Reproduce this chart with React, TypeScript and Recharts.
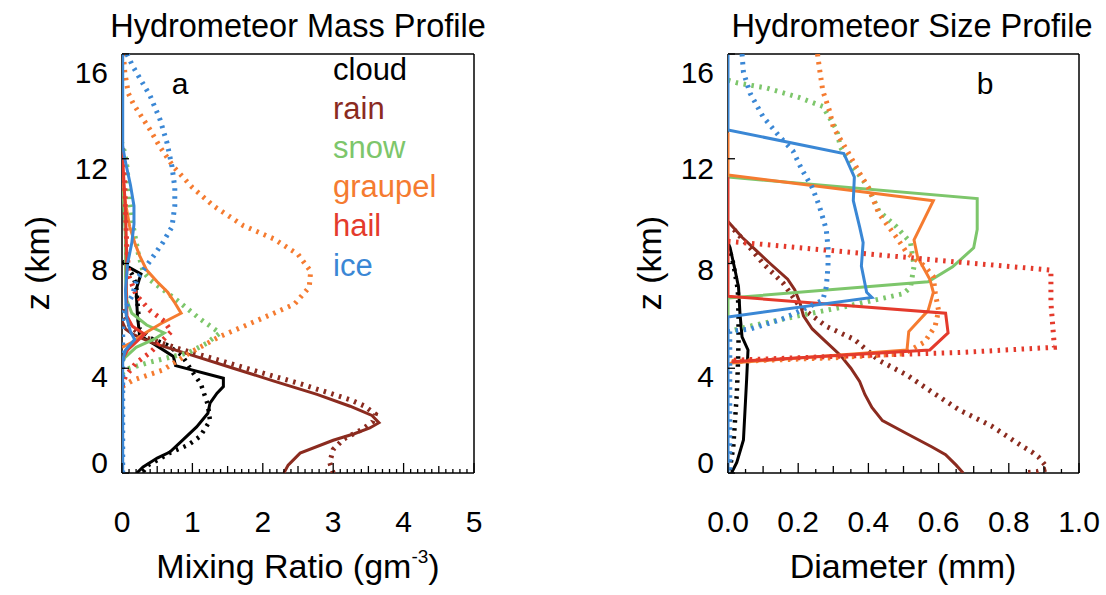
import React from 'react';
import { ScatterChart, Scatter, XAxis, YAxis } from 'recharts';

type Pair = [number, number]; // [value, height z (km)]

// ---------- Panel a: mixing ratio (g m^-3) ----------
const massCloudSolid: Pair[] = [[0.21, 0], [0.3, 0.23], [0.5, 0.57], [0.68, 0.8], [0.82, 1.15], [1.06, 1.76], [1.22, 2.28], [1.25, 2.67], [1.35, 3.05], [1.44, 3.3], [1.44, 3.62], [0.76, 4.1], [0.73, 4.45], [0.44, 4.95], [0.25, 5.25], [0.22, 6.0], [0.2, 7.0], [0.24, 7.35], [0.27, 7.6], [0.1, 7.85], [0, 8.05]];
const massCloudDotted: Pair[] = [[0.3, 0.05], [0.37, 0.3], [0.51, 0.5], [0.68, 0.77], [0.94, 1.07], [1.11, 1.4], [1.25, 2.0], [1.22, 2.6], [1.12, 3.4], [1.0, 3.86], [0.85, 4.5], [0.63, 4.9], [0.4, 5.15], [0.25, 5.5], [0.22, 6.5], [0.2, 7.2], [0.14, 7.6], [0.05, 7.9], [0, 8.1]];
const massRainSolid: Pair[] = [[2.3, 0], [2.36, 0.3], [2.53, 0.76], [3.0, 1.25], [3.3, 1.5], [3.52, 1.72], [3.65, 1.92], [3.55, 2.2], [3.24, 2.55], [2.77, 3.0], [2.17, 3.5], [1.58, 4.0], [0.99, 4.5], [0.44, 4.96], [0.15, 5.3], [0.05, 5.5], [0, 5.8]];
const massRainDotted: Pair[] = [[3.0, 0], [2.95, 0.4], [3.0, 0.9], [3.15, 1.3], [3.4, 1.65], [3.56, 1.95], [3.6, 2.25], [3.45, 2.55], [3.24, 2.8], [2.54, 3.4], [1.83, 3.95], [1.19, 4.45], [0.78, 4.77], [0.3, 5.2], [0.12, 5.6], [0.03, 6.0], [0, 6.3]];
const massSnowSolid: Pair[] = [[0, 4.2], [0.04, 4.4], [0.2, 4.8], [0.45, 5.1], [0.6, 5.35], [0.35, 5.65], [0.14, 6.1], [0.07, 6.6], [0.05, 7.5], [0.05, 9.0], [0.03, 10.0], [0.01, 11.0], [0, 11.5]];
const massSnowDotted: Pair[] = [[0, 3.8], [0.05, 3.95], [0.35, 4.2], [0.65, 4.4], [0.95, 4.6], [1.2, 4.95], [1.39, 5.35], [1.1, 5.9], [0.78, 6.6], [0.4, 7.37], [0.3, 7.7], [0.23, 8.4], [0.16, 9.4], [0.11, 10.4], [0.07, 11.7], [0.04, 12.2], [0, 12.6]];
const massGraupelSolid: Pair[] = [[0, 4.8], [0.15, 5.0], [0.3, 5.3], [0.55, 5.7], [0.84, 6.1], [0.75, 6.5], [0.65, 6.9], [0.5, 7.3], [0.35, 7.75], [0.25, 8.3], [0.18, 8.8], [0.11, 9.4], [0.05, 10.3], [0.02, 11.0], [0, 11.8]];
const massGraupelDotted: Pair[] = [[0.02, 16.0], [0.04, 15.3], [0.09, 14.5], [0.16, 14.1], [0.4, 13.1], [0.54, 12.45], [0.73, 11.7], [1.0, 10.9], [1.3, 10.2], [1.72, 9.45], [2.15, 8.95], [2.5, 8.35], [2.68, 7.7], [2.66, 7.1], [2.45, 6.45], [1.9, 5.8], [1.38, 5.2], [0.97, 4.6], [0.58, 3.93], [0.16, 3.55], [0, 3.3]];
const massHailSolid: Pair[] = [[0, 4.3], [0.08, 4.7], [0.2, 5.0], [0.32, 5.3], [0.15, 5.6], [0.07, 6.0], [0.06, 7.0], [0.07, 8.0], [0.06, 9.0], [0.05, 10.0], [0.03, 11.0], [0.01, 12.0], [0, 12.5]];
const massHailDotted: Pair[] = [[0, 3.3], [0.05, 3.7], [0.2, 4.2], [0.4, 4.6], [0.55, 5.0], [0.7, 5.4], [0.6, 5.8], [0.4, 6.2], [0.2, 6.8], [0.1, 7.5], [0.07, 8.5], [0.05, 10.0], [0.04, 11.0], [0.02, 12.0], [0, 12.5]];
const massIceSolid: Pair[] = [[0.01, 0], [0.01, 4.3], [0.05, 4.7], [0.18, 5.1], [0.12, 5.4], [0.06, 6.0], [0.05, 7.0], [0.08, 8.0], [0.14, 8.8], [0.17, 9.5], [0.17, 10.2], [0.12, 11.0], [0.04, 12.0], [0.01, 12.5], [0.01, 16]];
const massIceDotted: Pair[] = [[0.01, 0], [0.01, 6.0], [0.05, 6.3], [0.15, 6.8], [0.21, 7.4], [0.4, 8.1], [0.58, 8.8], [0.71, 9.4], [0.75, 10.2], [0.75, 10.9], [0.71, 11.7], [0.64, 12.6], [0.54, 13.5], [0.4, 14.4], [0.16, 15.5], [0.07, 16.0]];

// ---------- Panel b: diameter (mm) ----------
const sizeCloudSolid: Pair[] = [[0.01, 0], [0.025, 0.4], [0.044, 1.26], [0.053, 3.55], [0.057, 4.7], [0.04, 5.2], [0.034, 6.1], [0.03, 7.1], [0.02, 7.75], [0.006, 8.6], [0, 8.8]];
const sizeCloudDotted: Pair[] = [[0.005, 0.1], [0.015, 1.0], [0.02, 2.0], [0.025, 3.0], [0.028, 4.0], [0.03, 5.0], [0.03, 6.0], [0.028, 7.0], [0.015, 8.0], [0.005, 8.5]];
const sizeRainSolid: Pair[] = [[0.67, 0], [0.65, 0.3], [0.62, 0.7], [0.58, 1.0], [0.51, 1.5], [0.44, 2.0], [0.41, 2.5], [0.39, 3.0], [0.375, 3.5], [0.35, 4.0], [0.32, 4.5], [0.28, 5.0], [0.24, 5.5], [0.215, 6.0], [0.205, 6.5], [0.19, 7.0], [0.17, 7.4], [0.12, 8.0], [0.08, 8.5], [0.04, 9.0], [0, 9.6]];
const sizeRainDotted: Pair[] = [[0.855, 0.02], [0.88, 0.05], [0.908, 0.15], [0.903, 0.31], [0.884, 0.62], [0.865, 0.81], [0.841, 1.0], [0.818, 1.2], [0.75, 1.8], [0.66, 2.4], [0.58, 3.1], [0.51, 3.74], [0.43, 4.3], [0.36, 5.1], [0.28, 5.6], [0.205, 6.35], [0.157, 7.25], [0.1, 8.0], [0.063, 8.6], [0.01, 9.4]];
const sizeSnowSolid: Pair[] = [[0, 5.96], [0, 6.68], [0.57, 7.3], [0.64, 7.87], [0.7, 8.6], [0.71, 9.3], [0.71, 10.48], [0, 11.3]];
const sizeSnowDotted: Pair[] = [[0, 15.0], [0.025, 14.9], [0.11, 14.7], [0.2, 14.35], [0.27, 14.0], [0.31, 13.1], [0.32, 12.45], [0.35, 11.8], [0.4, 10.9], [0.43, 10.0], [0.48, 9.4], [0.52, 8.8], [0.53, 7.9], [0.52, 7.1], [0.5, 6.85], [0.35, 6.4], [0.2, 6.0], [0.06, 5.6], [0, 5.4]];
const sizeGraupelSolid: Pair[] = [[0, 13.0], [0, 11.38], [0.585, 10.4], [0.53, 8.9], [0.54, 8.25], [0.575, 7.4], [0.585, 6.9], [0.57, 6.2], [0.515, 5.4], [0.51, 4.7], [0.01, 4.2], [0, 4.15]];
const sizeGraupelDotted: Pair[] = [[0.255, 16.0], [0.26, 15.5], [0.27, 14.6], [0.29, 13.8], [0.3, 13.2], [0.34, 12.3], [0.375, 11.45], [0.4, 10.9], [0.43, 9.9], [0.48, 9.0], [0.51, 8.4], [0.56, 7.9], [0.585, 7.5], [0.59, 6.9], [0.6, 6.2], [0.59, 5.6], [0.56, 5.0], [0.5, 4.55], [0.3, 4.4], [0, 4.25]];
const sizeHailSolid: Pair[] = [[0, 11.3], [0, 6.75], [0.62, 6.1], [0.627, 5.35], [0.575, 4.7], [0.01, 4.25]];
const sizeHailDotted: Pair[] = [[0, 8.85], [0.66, 8.05], [0.92, 7.75], [0.92, 6.5], [0.93, 4.8], [0.66, 4.6], [0.3, 4.45], [0, 4.3]];
const sizeIceSolid: Pair[] = [[0, 16.0], [0, 13.1], [0.33, 12.2], [0.36, 11.3], [0.357, 10.4], [0.375, 9.4], [0.385, 8.8], [0.38, 7.9], [0.395, 6.9], [0.41, 6.7], [0, 5.96], [0, 0]];
const sizeIceDotted: Pair[] = [[0.04, 16.0], [0.044, 15.3], [0.063, 14.5], [0.1, 13.6], [0.15, 12.8], [0.185, 12.3], [0.21, 11.6], [0.24, 10.9], [0.26, 10.2], [0.28, 9.3], [0.285, 8.6], [0.285, 7.9], [0.28, 7.1], [0.27, 6.6], [0.15, 5.85], [0.063, 5.5], [0.005, 5.4], [0.005, 0]];

// ---------- axes / labels ----------
const species = ['cloud', 'rain', 'snow', 'graupel', 'hail', 'ice'];
const COLORS: Record<string, string> = {
  cloud: '#000000',
  rain: '#8B2B1F',
  snow: '#7DC66B',
  graupel: '#F57B30',
  hail: '#E43A2C',
  ice: '#3A87D5',
};
const zTicks = [0, 4, 8, 12, 16];
const zLabelShift = [-11, 8, 6, 10, 18];
const massTicks = [0, 1, 2, 3, 4, 5];
const massMidTicks = [0.5, 1.5, 2.5, 3.5, 4.5];
const massAllTicks = Array.from({ length: 51 }, (_, i) => i / 10);
const sizeTicks = [0, 0.2, 0.4, 0.6, 0.8, 1.0];
const sizeMidTicks = [0.1, 0.3, 0.5, 0.7, 0.9];
const sizeAllTicks = Array.from({ length: 21 }, (_, i) => i / 20);

const FONT = "'Liberation Sans', Arial, Helvetica, sans-serif";
const TICK_FS = 30;
const LEGEND_FS = 31;
const AXIS_FS = 34;
const TITLE_FS = 32.5;

const toPts = (arr: Pair[]) => arr.map(([x, z]) => ({ x, z }));
const NoShape = () => <g />;
const near = (list: number[], v: number) => list.some((t) => Math.abs(t - v) < 1e-6);

type Series = { name: string; solid: Pair[]; dotted: Pair[] };
const massSeries: Series[] = [
  { name: 'cloud', solid: massCloudSolid, dotted: massCloudDotted },
  { name: 'rain', solid: massRainSolid, dotted: massRainDotted },
  { name: 'snow', solid: massSnowSolid, dotted: massSnowDotted },
  { name: 'graupel', solid: massGraupelSolid, dotted: massGraupelDotted },
  { name: 'hail', solid: massHailSolid, dotted: massHailDotted },
  { name: 'ice', solid: massIceSolid, dotted: massIceDotted },
];
const sizeSeries: Series[] = [
  { name: 'cloud', solid: sizeCloudSolid, dotted: sizeCloudDotted },
  { name: 'rain', solid: sizeRainSolid, dotted: sizeRainDotted },
  { name: 'snow', solid: sizeSnowSolid, dotted: sizeSnowDotted },
  { name: 'graupel', solid: sizeGraupelSolid, dotted: sizeGraupelDotted },
  { name: 'hail', solid: sizeHailSolid, dotted: sizeHailDotted },
  { name: 'ice', solid: sizeIceSolid, dotted: sizeIceDotted },
];

const PLOT_TOP = 54;
const PLOT_BOTTOM = 473;
const H = 595;
const XAX_H = 40;
const TOPAX_H = 20;
const YAX_W = 60;
const RAX_W = 10;

type PanelProps = {
  left: number;
  width: number;
  plotLeft: number;
  plotRight: number;
  xDomain: [number, number];
  major: number[];
  mid: number[];
  all: number[];
  fmt: (v: number) => string;
  series: Series[];
};

function Panel({ left, width, plotLeft, plotRight, xDomain, major, mid, all, fmt, series }: PanelProps) {
  const margin = {
    top: PLOT_TOP - TOPAX_H,
    left: plotLeft - left - YAX_W,
    right: left + width - plotRight - RAX_W,
    bottom: H - PLOT_BOTTOM - XAX_H,
  };
  const tickLen = (v: number) => (near(major, v) ? 10 : near(mid, v) ? 7 : 4);
  const BottomTick = (p: any) => {
    const v = p.payload.value;
    return (
      <g>
        <line x1={p.x} x2={p.x} y1={p.y} y2={p.y - tickLen(v)} stroke="#000" strokeWidth={1.3} />
        {near(major, v) && (
          <text x={p.x} y={p.y + 59} textAnchor="middle" fontSize={TICK_FS} fontFamily={FONT} fill="#000">
            {fmt(v)}
          </text>
        )}
      </g>
    );
  };
  const TopTick = (p: any) => {
    const v = p.payload.value;
    return <line x1={p.x} x2={p.x} y1={p.y} y2={p.y + tickLen(v)} stroke="#000" strokeWidth={1.3} />;
  };
  const LeftTick = (p: any) => {
    const v = p.payload.value;
    const i = zTicks.indexOf(v);
    const s = i >= 0 ? zLabelShift[i] : 0;
    return (
      <g>
        <line x1={p.x} x2={p.x + 7} y1={p.y} y2={p.y} stroke="#000" strokeWidth={1.3} />
        <text x={p.x - 14} y={p.y + s + 10.5} textAnchor="end" fontSize={TICK_FS} fontFamily={FONT} fill="#000">
          {v}
        </text>
      </g>
    );
  };
  const Empty = () => <g />;
  const axisLine = { stroke: '#000', strokeWidth: 1.5 };
  const commonX = { type: 'number' as const, domain: xDomain, allowDataOverflow: true, interval: 0 as const, ticks: all, tickLine: false, tickSize: 0, tickMargin: 0, axisLine };
  const commonY = { type: 'number' as const, domain: [0, 16] as [number, number], allowDataOverflow: true, interval: 0 as const, ticks: zTicks, tickLine: false, tickSize: 0, tickMargin: 0, axisLine };
  return (
    <div style={{ position: 'absolute', left, top: 0 }}>
      <ScatterChart width={width} height={H} margin={margin}>
        <XAxis xAxisId="x" dataKey="x" orientation="bottom" height={XAX_H} {...commonX} tick={BottomTick} />
        <XAxis xAxisId="t" orientation="top" height={TOPAX_H} {...commonX} tick={TopTick} />
        <YAxis yAxisId="y" dataKey="z" orientation="left" width={YAX_W} {...commonY} tick={LeftTick} />
        <YAxis yAxisId="r" orientation="right" width={RAX_W} {...commonY} tick={Empty} />
        {series.flatMap((s) => [
          <Scatter
            key={s.name + '-dot'}
            name={s.name + ' dotted'}
            xAxisId="x"
            yAxisId="y"
            data={toPts(s.dotted)}
            shape={NoShape}
            line={{ stroke: COLORS[s.name], strokeWidth: s.name === 'cloud' ? 4.5 : 5, strokeDasharray: '2.5 5.5' }}
            lineType="joint"
            isAnimationActive={false}
          />,
          <Scatter
            key={s.name + '-sol'}
            name={s.name}
            xAxisId="x"
            yAxisId="y"
            data={toPts(s.solid)}
            shape={NoShape}
            line={{ stroke: COLORS[s.name], strokeWidth: 3 }}
            lineType="joint"
            isAnimationActive={false}
          />,
        ])}
      </ScatterChart>
    </div>
  );
}

const legendBaselines = [80, 118.5, 157.5, 196.5, 236, 275.5];

export default function App() {
  return (
    <div style={{ position: 'absolute', left: 0, top: 0, width: 1106, height: H, background: '#fff', overflow: 'hidden' }}>
      <Panel left={0} width={560} plotLeft={122} plotRight={474} xDomain={[0, 5]} major={massTicks} mid={massMidTicks} all={massAllTicks} fmt={(v) => String(v)} series={massSeries} />
      <Panel left={560} width={546} plotLeft={728} plotRight={1079} xDomain={[0, 1]} major={sizeTicks} mid={sizeMidTicks} all={sizeAllTicks} fmt={(v) => v.toFixed(1)} series={sizeSeries} />
      <svg width={1106} height={H} style={{ position: 'absolute', left: 0, top: 0, pointerEvents: 'none' }} fontFamily={FONT}>
        <text x={298} y={37} textAnchor="middle" fontSize={TITLE_FS} fill="#000">Hydrometeor Mass Profile</text>
        <text x={912} y={37} textAnchor="middle" fontSize={TITLE_FS} fill="#000">Hydrometeor Size Profile</text>
        <text x={180} y={94} textAnchor="middle" fontSize={TICK_FS} fill="#000">a</text>
        <text x={985} y={94} textAnchor="middle" fontSize={TICK_FS} fill="#000">b</text>
        {species.map((s, i) => (
          <text key={s} x={333} y={legendBaselines[i]} fontSize={LEGEND_FS} fill={COLORS[s]}>{s}</text>
        ))}
        <text x={298} y={578} textAnchor="middle" fontSize={AXIS_FS} fill="#000">
          Mixing Ratio (gm
          <tspan fontSize={19} dy={-15}>-3</tspan>
          <tspan dy={15}>)</tspan>
        </text>
        <text x={903} y={578} textAnchor="middle" fontSize={AXIS_FS} fill="#000">Diameter (mm)</text>
        <text x={49} y={263} textAnchor="middle" fontSize={AXIS_FS} fill="#000" transform="rotate(-90 49 263)">z (km)</text>
        <text x={661} y={263} textAnchor="middle" fontSize={AXIS_FS} fill="#000" transform="rotate(-90 661 263)">z (km)</text>
      </svg>
    </div>
  );
}
